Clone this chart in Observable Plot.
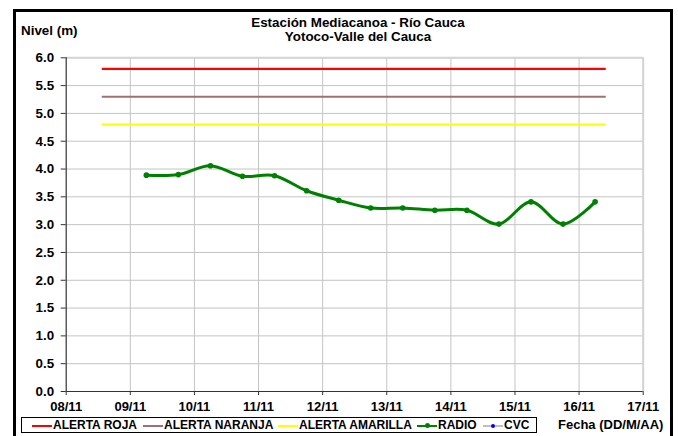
<!DOCTYPE html>
<html>
<head>
<meta charset="utf-8">
<script src="https://cdn.jsdelivr.net/npm/d3@7"></script>
<script src="https://cdn.jsdelivr.net/npm/@observablehq/plot@0.6"></script>
<style>
  html, body { margin: 0; padding: 0; background: #fff; }
  #wrap { position: relative; width: 678px; height: 436px; overflow: hidden; background: #fff;
    font-family: "Liberation Sans", Arial, sans-serif; font-weight: bold; color: #000; }
  #chart { position: absolute; left: 0; top: 0; }
  .abs { position: absolute; white-space: nowrap; }
  #frame { position: absolute; left: 13px; top: 9px; width: 654px; height: 460px; border: 3px solid #000; }
  #title { left: 0; width: 716px; top: 16px; text-align: center; font-size: 13.4px; line-height: 14px; }
  #ylab { left: 21px; top: 23px; font-size: 13.4px; }
  #legend { position: absolute; left: 21px; top: 417px; width: 514px; height: 14px; border: 1px solid #000; background: #fff; }
  .lg-line { position: absolute; top: 7px; height: 2px; width: 20px; }
  .lg-text { position: absolute; top: 0px; font-size: 12px; line-height: 15px; }
  .lg-dot { position: absolute; top: 5px; width: 5px; height: 5px; border-radius: 50%; }
  #xlab { left: 558px; top: 417px; font-size: 13px; }
</style>
</head>
<body>
<div id="wrap">
  <div id="chart"></div>
  <div id="frame"></div>
  <div id="title" class="abs"></div>
  <div id="ylab" class="abs"></div>
  <div id="legend"></div>
  <div id="xlab" class="abs"></div>
</div>
<script>
// ---- data ----
const titleLines = ["Estación Mediacanoa - Río Cauca", "Yotoco-Valle del Cauca"];
const yLabel = "Nivel (m)";
const xLabel = "Fecha (DD/M/AA)";

const xTickDates = ["2011-11-08","2011-11-09","2011-11-10","2011-11-11","2011-11-12",
                    "2011-11-13","2011-11-14","2011-11-15","2011-11-16","2011-11-17"];
const yTicks = [0,0.5,1,1.5,2,2.5,3,3.5,4,4.5,5,5.5,6];

const radioTimes = ["2011-11-09T06:00","2011-11-09T18:00","2011-11-10T06:00","2011-11-10T18:00",
                    "2011-11-11T06:00","2011-11-11T18:00","2011-11-12T06:00","2011-11-12T18:00",
                    "2011-11-13T06:00","2011-11-13T18:00","2011-11-14T06:00","2011-11-14T18:00",
                    "2011-11-15T06:00","2011-11-15T18:00","2011-11-16T06:00"];
const radioLevels = [3.89, 3.90, 4.06, 3.87, 3.88, 3.61, 3.44, 3.30, 3.30, 3.26, 3.26, 3.01, 3.41, 3.01, 3.41];

const alertNames  = ["ALERTA ROJA", "ALERTA NARANJA", "ALERTA AMARILLA"];
const alertLevels = [5.8, 5.3, 4.8];
const alertColors = ["#ff0000", "#a07070", "#ffff00"];
const alertStart = "2011-11-08T13:30";
const alertEnd   = "2011-11-16T10:10";

const seriesNames = ["RADIO", "CVC"];

// ---- build ----
const parse = s => new Date(s + (s.length === 10 ? "T00:00Z" : "Z"));
const xTicks = xTickDates.map(parse);
const radio = radioTimes.map((t, i) => ({ date: parse(t), level: radioLevels[i] }));
const alerts = alertLevels.map((v, i) => ({ name: alertNames[i], level: v, color: alertColors[i],
  x1: parse(alertStart), x2: parse(alertEnd) }));

const W = 678, H = 436;
const plot = Plot.plot({
  width: W, height: H,
  marginLeft: 65.7, marginRight: 35.3, marginTop: 57.3, marginBottom: 45,
  style: { background: "transparent", fontFamily: "'Liberation Sans', Arial, sans-serif",
           fontSize: "12px", fontWeight: "bold", color: "#000", overflow: "visible" },
  x: { type: "utc", domain: [xTicks[0], xTicks[xTicks.length - 1]] },
  y: { domain: [0, 6] },
  marks: [
    Plot.gridY(yTicks.slice(1), { stroke: "#c4c4c4", strokeOpacity: 1, strokeWidth: 1 }),
    Plot.gridX(xTicks.slice(1), { stroke: "#c4c4c4", strokeOpacity: 1, strokeWidth: 1 }),
    Plot.ruleY([6], { stroke: "#d4d4d4", strokeWidth: 2 }),
    Plot.ruleX([xTicks[xTicks.length - 1]], { stroke: "#d4d4d4", strokeWidth: 2 }),
    Plot.ruleY(alerts, { y: "level", x1: "x1", x2: "x2", stroke: "color", strokeWidth: 2.2 }),
    Plot.line(radio, { x: "date", y: "level", curve: "cardinal", stroke: "#008000", strokeWidth: 3 }),
    Plot.dot(radio, { x: "date", y: "level", r: 2.8, fill: "#008000", stroke: "none" }),
    Plot.ruleX([xTicks[0]], { stroke: "#333", strokeWidth: 1.2 }),
    Plot.ruleY([0], { stroke: "#333", strokeWidth: 1.2 }),
    Plot.axisY({ ticks: yTicks, tickFormat: d3.format(".1f"), tickSize: 5, tickPadding: 7,
                 label: null, stroke: "#333", fontSize: 13.4, fontWeight: "bold", fill: "#000" }),
    Plot.axisX({ ticks: xTicks, tickFormat: d3.utcFormat("%d/%m"), tickSize: 4, tickPadding: 6,
                 label: null, stroke: "#333", fontSize: 13, fontWeight: "bold", fill: "#000" })
  ]
});
document.getElementById("chart").appendChild(plot);

document.getElementById("title").innerHTML = titleLines.join("<br>");
document.getElementById("ylab").textContent = yLabel;
document.getElementById("xlab").textContent = xLabel;

// legend
const legend = document.getElementById("legend");
const items = [
  { name: alertNames[0], color: alertColors[0], x: 10 },
  { name: alertNames[1], color: alertColors[1], x: 121 },
  { name: alertNames[2], color: alertColors[2], x: 256 },
  { name: seriesNames[0], color: "#008000", x: 395, dot: "#008000" },
  { name: seriesNames[1], color: "#c0c0c0", x: 461, dot: "#0000ff" }
];
for (const it of items) {
  const ln = document.createElement("div");
  ln.className = "lg-line";
  ln.style.left = it.x + "px";
  ln.style.background = it.color;
  legend.appendChild(ln);
  if (it.dot) {
    const d = document.createElement("div");
    d.className = "lg-dot";
    d.style.left = (it.x + 8) + "px";
    d.style.background = it.dot;
    if (it.dot === "#0000ff") { d.style.width = "4px"; d.style.height = "4px"; d.style.top = "6px"; }
    legend.appendChild(d);
  }
  const t = document.createElement("div");
  t.className = "lg-text";
  t.style.left = (it.x + 21) + "px";
  t.textContent = it.name;
  legend.appendChild(t);
}
</script>
</body>
</html>
